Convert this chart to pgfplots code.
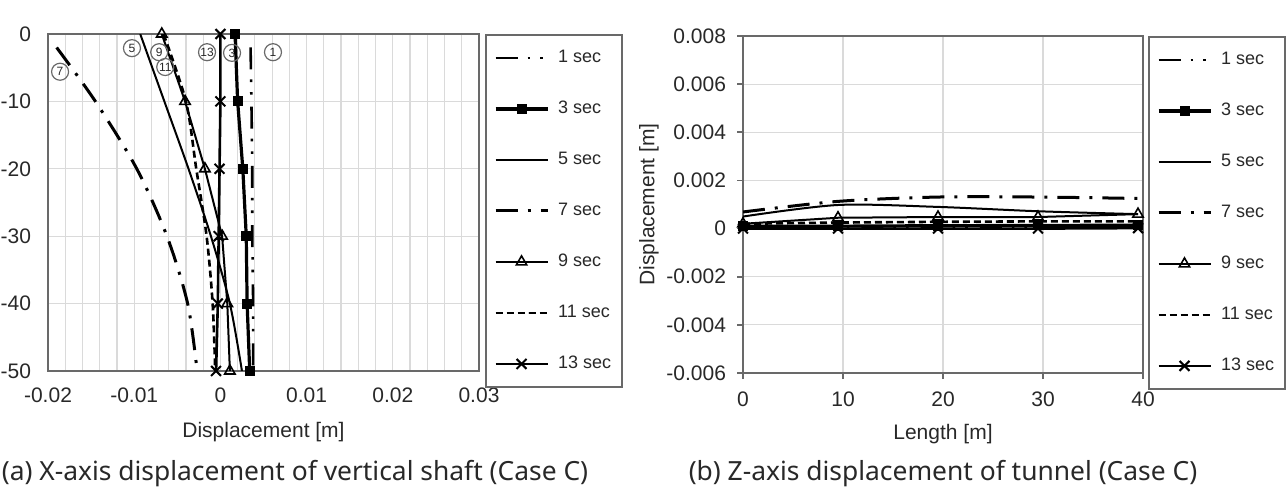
\documentclass[border=0pt]{standalone}
\usepackage{fontspec}
\setmainfont{Liberation Sans}
\newfontfamily\capfont{Noto Sans}
\usepackage{pgfplots}
\pgfplotsset{compat=1.18}

\definecolor{axgray}{RGB}{105,105,105}
\definecolor{gridgray}{RGB}{218,218,218}
\definecolor{txt}{RGB}{40,40,40}

% line styles of the seven time steps
\tikzset{
  s1/.style={black, line width=1.3pt, dash pattern=on 11pt off 5pt on 1.3pt off 5pt on 1.3pt off 6pt},
  s3/.style={black, line width=1.6pt, mark=square*, mark size=1.7pt, mark options={solid}},
  s5/.style={black, line width=1pt},
  s7/.style={black, line width=1.5pt, dash pattern=on 11pt off 5pt on 1.5pt off 5pt},
  s9/.style={black, line width=1pt, mark=triangle, mark size=3pt, mark options={solid, fill=white, line width=0.8pt}},
  s11/.style={black, line width=1.3pt, dash pattern=on 3.5pt off 2pt},
  s13/.style={black, line width=1.3pt, mark=x, mark size=3.5pt, mark options={solid, line width=1pt}},
  circ/.style={circle, draw=axgray, line width=0.6pt, inner sep=0pt, minimum size=8.5pt,
    font=\fontsize{6}{6}\selectfont, text=txt},
}

\pgfplotsset{
  common/.style={
    scale only axis,
    scaled ticks=false,
    axis line style={axgray, line width=0.9pt},
    major grid style={gridgray, line width=0.6pt},
    minor grid style={gridgray, line width=0.6pt},
    ticklabel style={font=\fontsize{10.5}{12}\selectfont, text=txt},
    label style={font=\fontsize{10.5}{12}\selectfont, text=txt},
    legend cell align=left,
    legend image code/.code={%
      \draw[mark repeat=2,mark phase=2,##1] plot coordinates {(0pt,0pt) (13pt,0pt) (26pt,0pt)};},
    legend style={draw=axgray, line width=0.9pt, anchor=north west,
      font=\fontsize{9}{10}\selectfont, text=txt,
      inner xsep=4pt, inner ysep=6pt, row sep=14.5pt,
      /tikz/every odd column/.append style={column sep=3pt},
      nodes={text height=6.5pt, text depth=1.5pt, inner sep=1.5pt}},
  },
}

\begin{document}
\begin{tikzpicture}
\path[use as bounding box] (0pt,0pt) rectangle (643.5pt,-243.5pt);

% (a) horizontal displacement along the shaft depth
\begin{axis}[common,
  at={(24pt,-17pt)}, anchor=north west,
  width=215.5pt, height=168.5pt,
  xmin=-0.02, xmax=0.03, ymin=-50, ymax=0,
  xtick={-0.02,-0.01,0,0.01,0.02,0.03},
  xticklabels={-0.02,-0.01,0,0.01,0.02,0.03},
  minor x tick num=4,
  ytick={-50,-40,-30,-20,-10,0},
  yticklabels={-50,-40,-30,-20,-10,0},
  xmajorgrids, xminorgrids, ymajorgrids,
  tick style={draw=none},
  yticklabel style={xshift=-5pt},
  xticklabel style={yshift=-5pt},
  xlabel={Displacement [m]},
  xlabel style={at={(axis description cs:0.5,-0.181)}, anchor=center},
  legend style={at={(1.014,1)}},
]
\addplot[s1] coordinates {(0.0035,-2) (0.0036,-10) (0.0037,-20) (0.0037,-30) (0.0038,-40) (0.0038,-50)};
\addlegendentry{1 sec}
\addplot[s3] coordinates {(0.0017,0) (0.0020,-10) (0.0026,-20) (0.0030,-30) (0.0031,-40) (0.0034,-50)};
\addlegendentry{3 sec}
\addplot[s5, smooth] coordinates {(-0.0093,0) (-0.0065,-10) (-0.0037,-20) (-0.0011,-30) (0.0011,-40) (0.0025,-50)};
\addlegendentry{5 sec}
\addplot[s7, smooth] coordinates {(-0.0190,-2) (-0.0145,-10) (-0.0097,-20) (-0.0062,-30) (-0.0038,-40) (-0.0027,-50)};
\addlegendentry{7 sec}
\addplot[s9] coordinates {(-0.0068,0) (-0.0041,-10) (-0.0018,-20) (0.0002,-30) (0.0008,-40) (0.0011,-50)};
\addlegendentry{9 sec}
\addplot[s11, smooth] coordinates {(-0.0066,0) (-0.0040,-10) (-0.0028,-20) (-0.0016,-30) (-0.0009,-40) (-0.0006,-50)};
\addlegendentry{11 sec}
\addplot[s13] coordinates {(0,0) (0,-10) (-0.0001,-20) (-0.0002,-30) (-0.0003,-40) (-0.0005,-50)};
\addlegendentry{13 sec}

\node[circ] at (axis cs:0.0061,-2.7) {1};
\node[circ] at (axis cs:0.00135,-2.8) {3};
\node[circ] at (axis cs:-0.01026,-2.1) {5};
\node[circ] at (axis cs:-0.0186,-5.6) {7};
\node[circ] at (axis cs:-0.0071,-2.7) {9};
\node[circ] at (axis cs:-0.0064,-4.9) {11};
\node[circ] at (axis cs:-0.00155,-2.7) {13};
\end{axis}

% (b) vertical displacement along the tunnel
\begin{axis}[common,
  at={(371.5pt,-18pt)}, anchor=north west,
  width=200pt, height=168.5pt,
  xmin=0, xmax=40, ymin=-0.006, ymax=0.008,
  xtick={0,10,20,30,40},
  xticklabels={0,10,20,30,40},
  ytick={-0.006,-0.004,-0.002,0,0.002,0.004,0.006,0.008},
  yticklabels={-0.006,-0.004,-0.002,0,0.002,0.004,0.006,0.008},
  grid=major,
  tick align=outside, major tick length=3pt,
  tick style={axgray, line width=0.9pt},
  xtick pos=bottom, ytick pos=left,
  yticklabel style={xshift=-2pt},
  xticklabel style={yshift=-3pt},
  xlabel={Length [m]},
  ylabel={Displacement [m]},
  xlabel style={at={(axis description cs:0.5,-0.181)}, anchor=center},
  ylabel style={at={(axis description cs:-0.235,0.5)}, anchor=center},
  legend style={at={(1.0125,1)}},
]
\addplot[s1] coordinates {(0,0.00006) (9.5,0.00006) (19.5,0.00007) (29.5,0.00007) (39.5,0.00008)};
\addlegendentry{1 sec}
\addplot[s3] coordinates {(0,0.0001) (9.5,0.0001) (19.5,0.00012) (29.5,0.00013) (39.5,0.00014)};
\addlegendentry{3 sec}
\addplot[s5, smooth] coordinates {(0,0.0005) (9.5,0.00098) (19.5,0.0009) (29.5,0.00072) (39.5,0.0006)};
\addlegendentry{5 sec}
\addplot[s7, smooth] coordinates {(0,0.00069) (9.5,0.00113) (19.5,0.00131) (29.5,0.00131) (39.5,0.00125)};
\addlegendentry{7 sec}
\addplot[s9] coordinates {(0,0.0002) (9.5,0.00045) (19.5,0.00048) (29.5,0.00048) (39.5,0.0006)};
\addlegendentry{9 sec}
\addplot[s11] coordinates {(0,0.0002) (9.5,0.00025) (19.5,0.00028) (29.5,0.0003) (39.5,0.0003)};
\addlegendentry{11 sec}
\addplot[s13] coordinates {(0,0) (9.5,0) (19.5,0) (29.5,0) (39.5,0.00002)};
\addlegendentry{13 sec}
\end{axis}

\node[font=\capfont\fontsize{13.2}{15}\selectfont, text=txt] at (147.5pt,-236.8pt)
  {(a) X-axis displacement of vertical shaft (Case C)};
\node[font=\capfont\fontsize{13.2}{15}\selectfont, text=txt] at (471.5pt,-236.8pt)
  {(b) Z-axis displacement of tunnel (Case C)};
\end{tikzpicture}
\end{document}
